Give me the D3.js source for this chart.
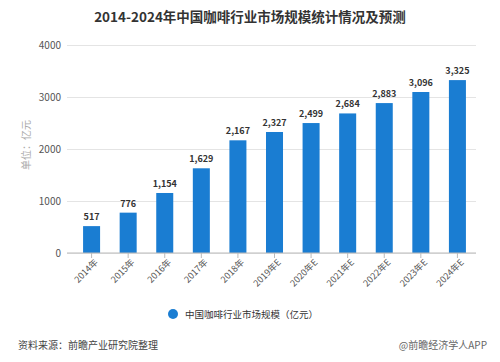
<!DOCTYPE html>
<html>
<head>
<meta charset="utf-8">
<script src="https://cdn.jsdelivr.net/npm/d3@7"></script>
<style>
  body { margin: 0; background: #fff; }
  text { font-family: "Noto Sans CJK SC", "Noto Sans", sans-serif; }
</style>
</head>
<body>
<div id="vis"></div>
<script>
// chart data
var years = ["2014年", "2015年", "2016年", "2017年", "2018年", "2019年E", "2020年E", "2021年E", "2022年E", "2023年E", "2024年E"];
var marketSize = [517, 776, 1154, 1629, 2167, 2327, 2499, 2684, 2883, 3096, 3325];
var yTicks = [0, 1000, 2000, 3000, 4000];

var width = 500;
var height = 362;
var margin = { top: 45, right: 24, bottom: 109, left: 67 };

var svg = d3.select("#vis").append("svg")
    .attr("width", width)
    .attr("height", height);

var x = d3.scaleBand()
    .domain(years)
    .range([71, 478])
    .paddingInner(0.535)
    .paddingOuter(0.33);

var y = d3.scaleLinear()
    .domain([0, 4000])
    .range([height - margin.bottom, margin.top]);

// title
svg.append("text")
    .attr("x", 250)
    .attr("y", 22)
    .attr("text-anchor", "middle")
    .style("font-size", "13.5px")
    .style("font-weight", "bold")
    .style("fill", "#333")
    .text("2014-2024年中国咖啡行业市场规模统计情况及预测");

// grid + y axis
var yAxis = svg.append("g")
    .attr("transform", "translate(" + margin.left + ",0)")
    .call(d3.axisLeft(y).tickValues(yTicks).tickSize(-(width - margin.left - margin.right)).tickPadding(6).tickFormat(d3.format("d")));
yAxis.select(".domain").remove();
yAxis.selectAll(".tick line").attr("stroke", "#e4e4e4");
yAxis.selectAll(".tick text").style("font-size", "10px").style("fill", "#555");

svg.append("text")
    .attr("transform", "translate(30,145) rotate(-90)")
    .attr("text-anchor", "middle")
    .style("font-size", "10px")
    .style("fill", "#aaa")
    .text("单位：亿元");

// bars
svg.append("g").selectAll("rect")
    .data(marketSize)
    .enter().append("rect")
    .attr("x", function(d, i) { return x(years[i]); })
    .attr("y", function(d) { return y(d); })
    .attr("width", x.bandwidth())
    .attr("height", function(d) { return y(0) - y(d); })
    .attr("fill", "#1a7dd2");

svg.append("g").selectAll("text")
    .data(marketSize)
    .enter().append("text")
    .attr("x", function(d, i) { return x(years[i]) + x.bandwidth() / 2; })
    .attr("y", function(d) { return y(d) - 6; })
    .attr("text-anchor", "middle")
    .style("font-size", "9px")
    .style("font-weight", "bold")
    .style("fill", "#333")
    .text(function(d) { return d3.format(",")(d); });

// x axis
var xAxis = svg.append("g")
    .attr("transform", "translate(0," + y(0) + ")")
    .call(d3.axisBottom(x).tickSize(5).tickSizeOuter(0));
xAxis.select(".domain").attr("d", "M" + margin.left + ",0H" + (width - margin.right)).attr("stroke", "#bbb");
xAxis.selectAll(".tick line").attr("stroke", "#bbb");
xAxis.selectAll(".tick text")
    .attr("text-anchor", "end")
    .attr("dx", "-2")
    .attr("dy", "4")
    .attr("transform", "rotate(-45)")
    .style("font-size", "9px")
    .style("fill", "#555");

// legend
svg.append("circle")
    .attr("cx", 173)
    .attr("cy", 314)
    .attr("r", 5)
    .attr("fill", "#1a7dd2");
svg.append("text")
    .attr("x", 185)
    .attr("y", 318)
    .style("font-size", "9.5px")
    .style("fill", "#333")
    .text("中国咖啡行业市场规模（亿元）");

// source
svg.append("text")
    .attr("x", 18)
    .attr("y", 349)
    .style("font-size", "10px")
    .style("fill", "#444")
    .text("资料来源：前瞻产业研究院整理");
svg.append("text")
    .attr("x", 487)
    .attr("y", 349)
    .attr("text-anchor", "end")
    .style("font-size", "10px")
    .style("fill", "#666")
    .text("@前瞻经济学人APP");
</script>
</body>
</html>
